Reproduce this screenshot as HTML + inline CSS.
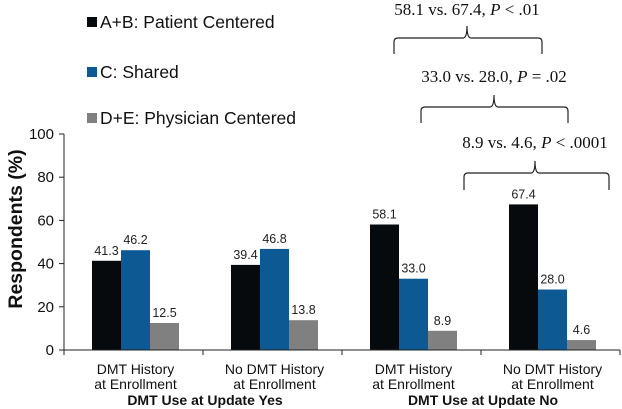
<!DOCTYPE html>
<html><head><meta charset="utf-8"><style>
body{margin:0;background:#fff}
svg{display:block;font-family:"Liberation Sans",Arial,sans-serif}
</style></head><body>
<svg id="c" width="622" height="409">
<g>
<g><rect x="87" y="17" width="10" height="10" fill="#060a0c"/><text x="100" y="28" font-size="17.5" fill="#111">A+B: Patient Centered</text></g>
<g><rect x="87" y="67" width="10" height="10" fill="#0c5994"/><text x="100" y="78" font-size="17.5" fill="#111">C: Shared</text></g>
<g><rect x="87" y="113" width="10" height="10" fill="#808080"/><text x="100" y="124" font-size="17.5" fill="#111">D+E: Physician Centered</text></g>
</g>
<g font-family="Liberation Serif,serif" font-size="17" fill="#111" text-anchor="middle">
<text x="467" y="15">58.1 vs. 67.4, <tspan font-style="italic">P</tspan> &lt; .01</text>
<path d="M394,54 V42 Q394,38 398,38 H463 Q467,38 467,26 Q467,38 471,38 H538 Q542,38 542,42 V54" fill="none" stroke="#222" stroke-width="1.2"/>
<text x="494" y="82">33.0 vs. 28.0, <tspan font-style="italic">P</tspan> = .02</text>
<path d="M421,123 V111 Q421,107 425,107 H490 Q494,107 494,95 Q494,107 498,107 H564 Q568,107 568,111 V123" fill="none" stroke="#222" stroke-width="1.2"/>
<text x="535" y="148">8.9 vs. 4.6, <tspan font-style="italic">P</tspan> &lt; .0001</text>
<path d="M464,190 V177 Q464,173 468,173 H531 Q535,173 535,161 Q535,173 539,173 H605 Q609,173 609,177 V190" fill="none" stroke="#222" stroke-width="1.2"/>
</g>
<text transform="translate(22,229) rotate(-90)" text-anchor="middle" font-size="19.5" font-weight="bold" fill="#111">Respondents (%)</text>
<g id="plot"></g>
</svg>
<script>
const categories=[["DMT History","at Enrollment"],["No DMT History","at Enrollment"],["DMT History","at Enrollment"],["No DMT History","at Enrollment"]];
const groupLabels=["DMT Use at Update Yes","DMT Use at Update No"];
const patientCentered=[41.3,39.4,58.1,67.4];
const shared=[46.2,46.8,33.0,28.0];
const physicianCentered=[12.5,13.8,8.9,4.6];
const yTicks=[0,20,40,60,80,100];
const NS="http://www.w3.org/2000/svg";
const g=document.getElementById('plot');
const x0=64,x1=620,y0=350,y100=134,gw=(x1-x0)/4,bw=29;
const y=v=>y0-(v/100)*(y0-y100);
function mk(t,a,txt){const e=document.createElementNS(NS,t);for(const k in a)e.setAttribute(k,a[k]);if(txt!=null)e.textContent=txt;g.appendChild(e);return e;}
yTicks.forEach(v=>{
 const t=mk('line',{x1:x0-5,x2:x0,y1:y(v),y2:y(v),stroke:'#222'});
 
 
 const l=mk('text',{x:x0-10,y:y(v)+5,'text-anchor':'end','font-size':15,fill:'#111'},v);
 
 
});
const series=[[patientCentered,'#060a0c','patient'],[shared,'#0c5994','shared'],[physicianCentered,'#808080','physician']];
categories.forEach((c,i)=>{
 const start=x0+i*gw+28;
 series.forEach((s,j)=>{
  const v=s[0][i],bx=start+j*bw;
  const r=mk('rect',{x:bx,y:y(v),width:bw,height:y0-y(v),fill:s[1]});
  
  
  const t=mk('text',{x:bx+bw/2,y:y(v)-6,'text-anchor':'middle','font-size':12.5,fill:'#222'},v.toFixed(1));
  
  
 });
 const cx=x0+i*gw+gw/2+2;
 c.forEach((ln,k)=>{
  const t=mk('text',{x:cx,y:374+k*15,'text-anchor':'middle','font-size':14,fill:'#111'},ln);
  
  
 });
});
for(let i=0;i<=4;i++){
 const tk=mk('line',{x1:x0+i*gw,x2:x0+i*gw,y1:y0,y2:y0+5,stroke:'#222'});
 
 
}
groupLabels.forEach((l,i)=>{
 const t=mk('text',{x:x0+gw*(2*i+1)+2,y:405,'text-anchor':'middle','font-size':14,'font-weight':'bold',fill:'#111'},l);
 
 
});
const ya=mk('line',{x1:x0,x2:x0,y1:y100,y2:y0,stroke:'#222'});


const xa=mk('line',{x1:x0,x2:x1,y1:y0,y2:y0,stroke:'#222'});


</script>
</body></html>
